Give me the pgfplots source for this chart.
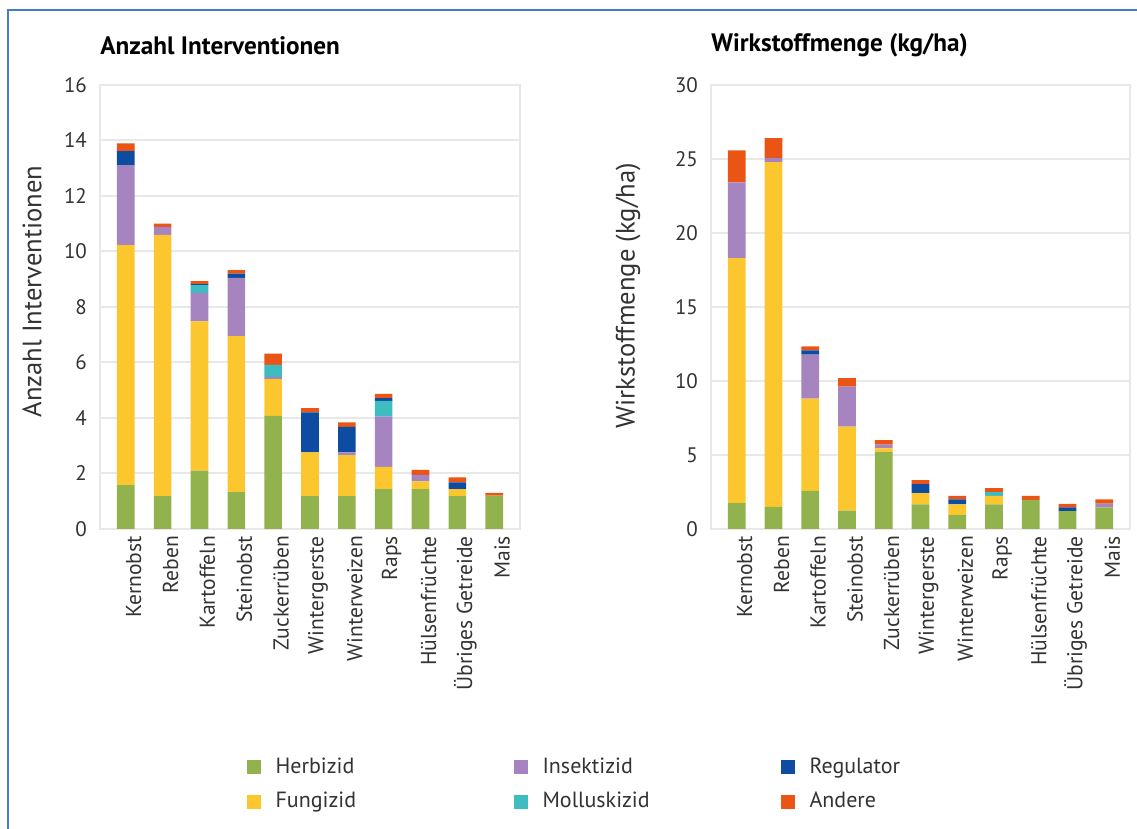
\documentclass[border=0pt]{standalone}
\usepackage{fontspec}
\setmainfont{PT Sans}
\usepackage{pgfplots}
\pgfplotsset{compat=1.18}
\usepackage{pgfplotstable}

\definecolor{herb}{HTML}{92B24D}
\definecolor{fung}{HTML}{FCC72E}
\definecolor{insk}{HTML}{A584C0}
\definecolor{moll}{HTML}{3DBDC0}
\definecolor{regu}{HTML}{0D4CA0}
\definecolor{andere}{HTML}{EA5516}
\definecolor{frameblue}{HTML}{4A78D0}
\definecolor{txt}{HTML}{333333}

% Anzahl Interventionen
\pgfplotstableread{
x herb fung insk moll regu andere
0  1.58 8.65 2.88 0    0.51 0.28
1  1.18 9.42 0.29 0    0    0.11
2  2.10 5.38 1.03 0.28 0.03 0.11
3  1.33 5.62 2.10 0    0.15 0.13
4  4.08 1.32 0.08 0.43 0    0.41
5  1.18 1.58 0    0    1.44 0.16
6  1.18 1.48 0.10 0    0.92 0.16
7  1.44 0.80 1.81 0.57 0.10 0.15
8  1.44 0.28 0.23 0    0    0.18
9  1.18 0.26 0    0    0.24 0.18
10 1.20 0    0    0    0    0.10
}\tabA

% Wirkstoffmenge (kg/ha)
\pgfplotstableread{
x herb fung insk moll regu andere
0  1.75 16.55 5.12 0    0    2.16
1  1.50 23.29 0.27 0    0    1.35
2  2.58 6.23  2.97 0    0.29 0.27
3  1.24 5.68  2.70 0    0    0.58
4  5.20 0.25  0.25 0    0    0.30
5  1.67 0.76  0    0    0.61 0.26
6  0.93 0.74  0    0    0.33 0.24
7  1.67 0.57  0    0.26 0    0.26
8  1.96 0     0    0    0    0.28
9  1.20 0     0    0    0.26 0.24
10 1.46 0     0.26 0    0    0.28
}\tabB

\pgfplotsset{
  myaxis/.style={
    scale only axis,
    height=222pt,
    ybar stacked,
    bar width=8.8pt,
    xmin=-0.7, xmax=10.7, ymin=0,
    xtick={0,...,10},
    xticklabels={Kernobst,Reben,Kartoffeln,Steinobst,Zuckerrüben,Wintergerste,Winterweizen,Raps,Hülsenfrüchte,Übriges Getreide,Mais},
    xticklabel style={rotate=90, anchor=east, font=\fontsize{10.8}{12}\selectfont, text=txt, yshift=-4pt},
    yticklabel style={font=\fontsize{10.5}{12}\selectfont, text=txt, xshift=-3pt},
    /pgf/number format/assume math mode=true,
    major tick length=0pt,
    ymajorgrids,
    grid style={line width=1pt, color=black!9},
    axis line style={line width=1pt, color=black!9},
    title style={font=\bfseries\fontsize{12.6}{14}\selectfont, anchor=west, text=black, inner sep=0pt},
    ylabel style={font=\fontsize{13.3}{15}\selectfont, text=txt, anchor=center, rotate=0},
    every axis plot/.append style={draw=none, forget plot},
  }
}

\begin{document}
\begin{tikzpicture}
\useasboundingbox (0,0) rectangle (568.5pt,414.5pt);
\draw[frameblue, line width=1.2pt] (4pt,0) -- (4pt,409.5pt) -- (568.5pt,409.5pt);

\begin{axis}[myaxis,
  at={(50pt,150pt)}, anchor=south west,
  width=210pt,
  ymax=16, ytick={0,2,...,16},
  title={Anzahl Interventionen},
  title style={at={(axis description cs:0,1.062)}},
  ylabel={Anzahl Interventionen},
  ylabel style={at={(axis description cs:-0.162,0.535)}},
  legend columns=3,
  legend style={at={(axis description cs:0.348,-0.505)}, anchor=north west,
    draw=none, inner sep=0pt, font=\fontsize{11}{13}\selectfont, text=txt,
    /tikz/every odd column/.append style={column sep=5.5pt},
    row sep=4pt},
  legend cell align=left,
  legend image code/.code={\fill[#1] (0pt,-3.5pt) rectangle (7pt,3.5pt);},
]
\addplot[fill=herb] table[x=x,y=herb]{\tabA};
\addplot[fill=fung] table[x=x,y=fung]{\tabA};
\addplot[fill=insk] table[x=x,y=insk]{\tabA};
\addplot[fill=moll] table[x=x,y=moll]{\tabA};
\addplot[fill=regu] table[x=x,y=regu]{\tabA};
\addplot[fill=andere] table[x=x,y=andere]{\tabA};
\addlegendimage{fill=herb}
\addlegendentry{\makebox[117pt][l]{Herbizid}}
\addlegendimage{fill=insk}
\addlegendentry{\makebox[117pt][l]{Insektizid}}
\addlegendimage{fill=regu}
\addlegendentry{Regulator}
\addlegendimage{fill=fung}
\addlegendentry{\makebox[117pt][l]{Fungizid}}
\addlegendimage{fill=moll}
\addlegendentry{\makebox[117pt][l]{Molluskizid}}
\addlegendimage{fill=andere}
\addlegendentry{Andere}
\end{axis}

\begin{axis}[myaxis,
  at={(355.5pt,150pt)}, anchor=south west,
  width=209.5pt,
  ymax=30, ytick={0,5,...,30},
  title={Wirkstoffmenge (kg/ha)},
  title style={at={(axis description cs:0,1.062)}},
  ylabel={Wirkstoffmenge (kg/ha)},
  ylabel style={at={(axis description cs:-0.198,0.525)}},
]
\addplot[fill=herb] table[x=x,y=herb]{\tabB};
\addplot[fill=fung] table[x=x,y=fung]{\tabB};
\addplot[fill=insk] table[x=x,y=insk]{\tabB};
\addplot[fill=moll] table[x=x,y=moll]{\tabB};
\addplot[fill=regu] table[x=x,y=regu]{\tabB};
\addplot[fill=andere] table[x=x,y=andere]{\tabB};
\end{axis}
\end{tikzpicture}
\end{document}
